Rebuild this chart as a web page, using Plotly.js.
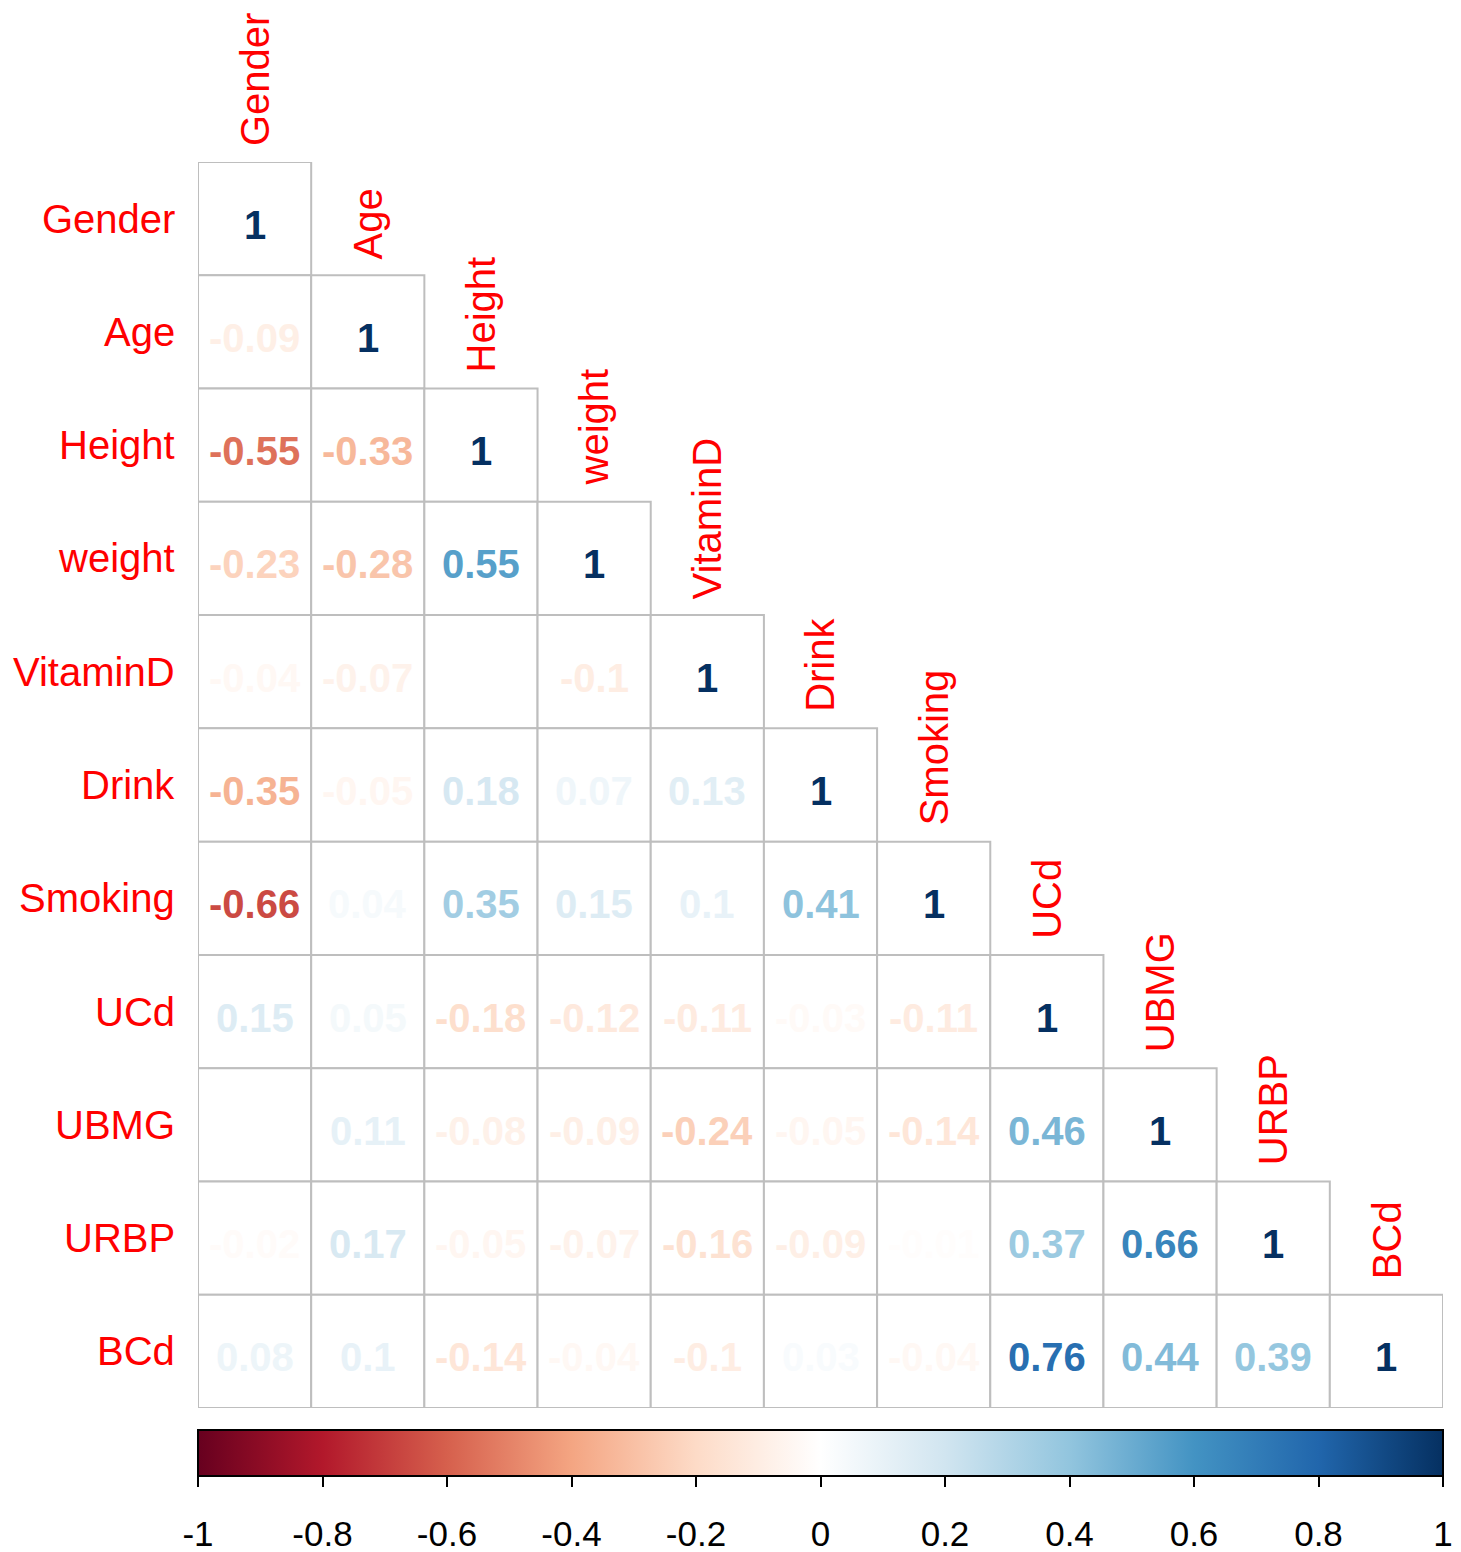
<!DOCTYPE html>
<html>
<head>
<meta charset="utf-8">
<script src="https://cdn.plot.ly/plotly-3.0.1.min.js"></script>
<style>html,body{margin:0;padding:0;background:#fff;}#chart{width:1461px;height:1552px;}</style>
</head>
<body>
<div id="chart"></div>
<script>
// Variables (rows/columns)
const vars = ["Gender","Age","Height","weight","VitaminD","Drink","Smoking","UCd","UBMG","URBP","BCd"];
// Lower-triangle correlation rows
const rowGender   = [1];
const rowAge      = [-0.09, 1];
const rowHeight   = [-0.55, -0.33, 1];
const rowWeight   = [-0.23, -0.28, 0.55, 1];
const rowVitaminD = [-0.04, -0.07, 0, -0.1, 1];
const rowDrink    = [-0.35, -0.05, 0.18, 0.07, 0.13, 1];
const rowSmoking  = [-0.66, 0.04, 0.35, 0.15, 0.1, 0.41, 1];
const rowUCd      = [0.15, 0.05, -0.18, -0.12, -0.11, -0.03, -0.11, 1];
const rowUBMG     = [0, 0.11, -0.08, -0.09, -0.24, -0.05, -0.14, 0.46, 1];
const rowURBP     = [-0.02, 0.17, -0.05, -0.07, -0.16, -0.09, -0.01, 0.37, 0.66, 1];
const rowBCd      = [0.08, 0.1, -0.14, -0.04, -0.1, 0.03, -0.04, 0.76, 0.44, 0.39, 1];
const colorbarTicks = [-1, -0.8, -0.6, -0.4, -0.2, 0, 0.2, 0.4, 0.6, 0.8, 1];

const rows = [rowGender,rowAge,rowHeight,rowWeight,rowVitaminD,rowDrink,rowSmoking,rowUCd,rowUBMG,rowURBP,rowBCd];

// RdBu palette (corrplot COL2)
const pal = ["#67001F","#B2182B","#D6604D","#F4A582","#FDDBC7","#FFFFFF","#D1E5F0","#92C5DE","#4393C3","#2166AC","#053061"];
const colorscale = pal.map((c,i)=>[i/(pal.length-1), c]);
function hex2rgb(h){return [parseInt(h.slice(1,3),16),parseInt(h.slice(3,5),16),parseInt(h.slice(5,7),16)];}
function colorFor(v){
  const t = (v+1)/2*(pal.length-1);
  const i = Math.min(Math.floor(t), pal.length-2);
  const f = t - i;
  const a = hex2rgb(pal[i]), b = hex2rgb(pal[i+1]);
  const c = a.map((x,k)=>Math.round(x+(b[k]-x)*f));
  return `rgb(${c[0]},${c[1]},${c[2]})`;
}
function fmt(v){ return String(Math.round(v*100)/100); }

const FONT = '"Liberation Sans", Arial, sans-serif';

const xs=[], ys=[], vals=[];
const shapes=[];
const annotations=[];
rows.forEach((r,i)=>{
  r.forEach((v,j)=>{
    xs.push(j); ys.push(i); vals.push(v);
    shapes.push({type:'rect', xref:'x', yref:'y', x0:j-0.5, x1:j+0.5, y0:i-0.5, y1:i+0.5,
      line:{color:'#BEBEBE', width:2}, fillcolor:'white', layer:'below'});
    annotations.push({x:j, y:i, xref:'x', yref:'y', text:fmt(v), showarrow:false,
      xanchor:'center', yanchor:'middle', yshift:-6,
      font:{family:FONT, size:40, color:colorFor(v), weight:'bold'}});
  });
});

// Invisible points carrying the colour scale and its bar
const trace = {
  type:'scatter', mode:'markers', x:xs, y:ys,
  hoverinfo:'skip', cliponaxis:false,
  marker:{color:vals, colorscale:colorscale, cmin:-1, cmax:1, showscale:true, size:0.1, opacity:0,
    colorbar:{orientation:'h', x:0.5, xanchor:'center', xpad:0, len:1, lenmode:'fraction',
      y:-0.0177, yanchor:'top', ypad:0, thickness:46, thicknessmode:'pixels',
      outlinecolor:'black', outlinewidth:2,
      tickmode:'array', tickvals:colorbarTicks, showticklabels:false,
      ticks:'outside', ticklen:10, tickwidth:2, tickcolor:'black'}}
};
// Carrier for the colour bar tick labels (placed further down, like the reference)
const labelTrace = {
  type:'scatter', mode:'markers', x:[xs[0]], y:[ys[0]],
  hoverinfo:'skip', cliponaxis:false,
  marker:{color:[vals[0]], colorscale:[[0,'rgba(255,255,255,0)'],[1,'rgba(255,255,255,0)']], cmin:-1, cmax:1,
    showscale:true, size:0.1, opacity:0,
    colorbar:{orientation:'h', x:0.5, xanchor:'center', xpad:0, len:1, lenmode:'fraction',
      y:-0.0754, yanchor:'top', ypad:0, thickness:1, thicknessmode:'pixels',
      outlinewidth:0, ticks:'',
      tickmode:'array', tickvals:colorbarTicks, ticktext:colorbarTicks.map(t=>String(t)),
      tickfont:{family:FONT, size:35, color:'black'}}}
};

vars.forEach((name,i)=>{
  annotations.push({x:-0.5, y:i, xref:'x', yref:'y', text:name, showarrow:false,
    xanchor:'right', yanchor:'middle', xshift:-21,
    font:{family:FONT, size:40, color:'#FF0000'}});
  annotations.push({x:i, y:i-0.5, xref:'x', yref:'y', text:name, showarrow:false,
    textangle:-90, xanchor:'center', yanchor:'bottom', yshift:14,
    font:{family:FONT, size:40, color:'#FF0000'}});
});

const layout = {
  width:1461, height:1552,
  margin:{l:198, r:18, t:162, b:144, autoexpand:false},
  paper_bgcolor:'white', plot_bgcolor:'white',
  showlegend:false,
  xaxis:{range:[-0.5,10.5], showgrid:false, zeroline:false, showticklabels:false, ticks:'', showline:false, fixedrange:true},
  yaxis:{range:[10.5,-0.5], showgrid:false, zeroline:false, showticklabels:false, ticks:'', showline:false, fixedrange:true},
  shapes:shapes,
  annotations:annotations
};

Plotly.newPlot('chart',[trace,labelTrace],layout,{displayModeBar:false, staticPlot:true});
</script>
</body>
</html>
